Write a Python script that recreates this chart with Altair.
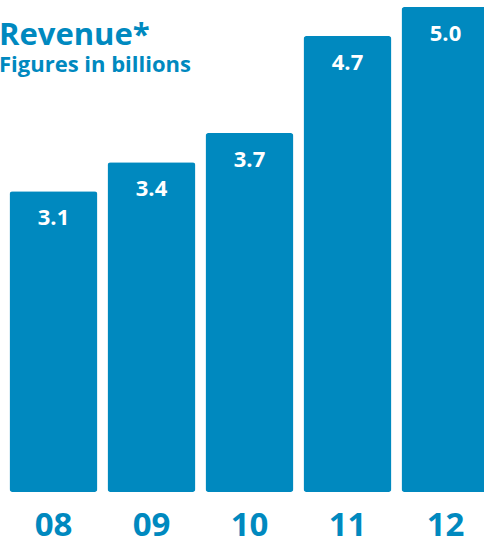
import altair as alt
import pandas as pd

years = ["08", "09", "10", "11", "12"]
revenue = [3.1, 3.4, 3.7, 4.7, 5.0]
value_labels = ["3.1", "3.4", "3.7", "4.7", "5.0"]

BLUE = "#0089bf"
FONT = "Open Sans"

df = pd.DataFrame({"year": years, "revenue": revenue, "label": value_labels})

x = alt.X("year:N", sort=years,
          scale=alt.Scale(range=[9.5, 489.5], paddingInner=10 / 98, paddingOuter=0),
          axis=alt.Axis(title=None, domain=False, ticks=False, tickSize=0,
                        labelAngle=0, labelFont=FONT, labelFontSize=33,
                        labelFontWeight="bold", labelColor=BLUE,
                        labelBaseline="alphabetic", labelPadding=43))
y = alt.Y("revenue:Q", scale=alt.Scale(domain=[0, 492 / 97], nice=False, zero=True),
          axis=None)

bars = alt.Chart(df).mark_bar(color=BLUE, cornerRadius=3).encode(x=x, y=y)
labels = alt.Chart(df).mark_text(
    color="white", font=FONT, fontSize=22, fontWeight="bold",
    baseline="alphabetic", align="center", dy=34
).encode(x=x, y=y, text="label:N")

chart = alt.layer(bars, labels).properties(
    width=484, height=492,
    title=alt.TitleParams(
        text="Revenue*", subtitle="Figures in billions",
        anchor="start", frame="group", orient="top",
        font=FONT, fontSize=31, fontWeight="bold", color=BLUE,
        subtitleFont=FONT, subtitleFontSize=22, subtitleFontWeight="bold",
        subtitleColor=BLUE, subtitlePadding=3, offset=-77, dx=-1),
    autosize=alt.AutoSizeParams(type="none"),
    padding={"left": 0, "top": 0, "right": 0, "bottom": 52},
).configure_view(stroke=None)

chart.save("out.html", embed_options={"renderer": "svg", "actions": False})
